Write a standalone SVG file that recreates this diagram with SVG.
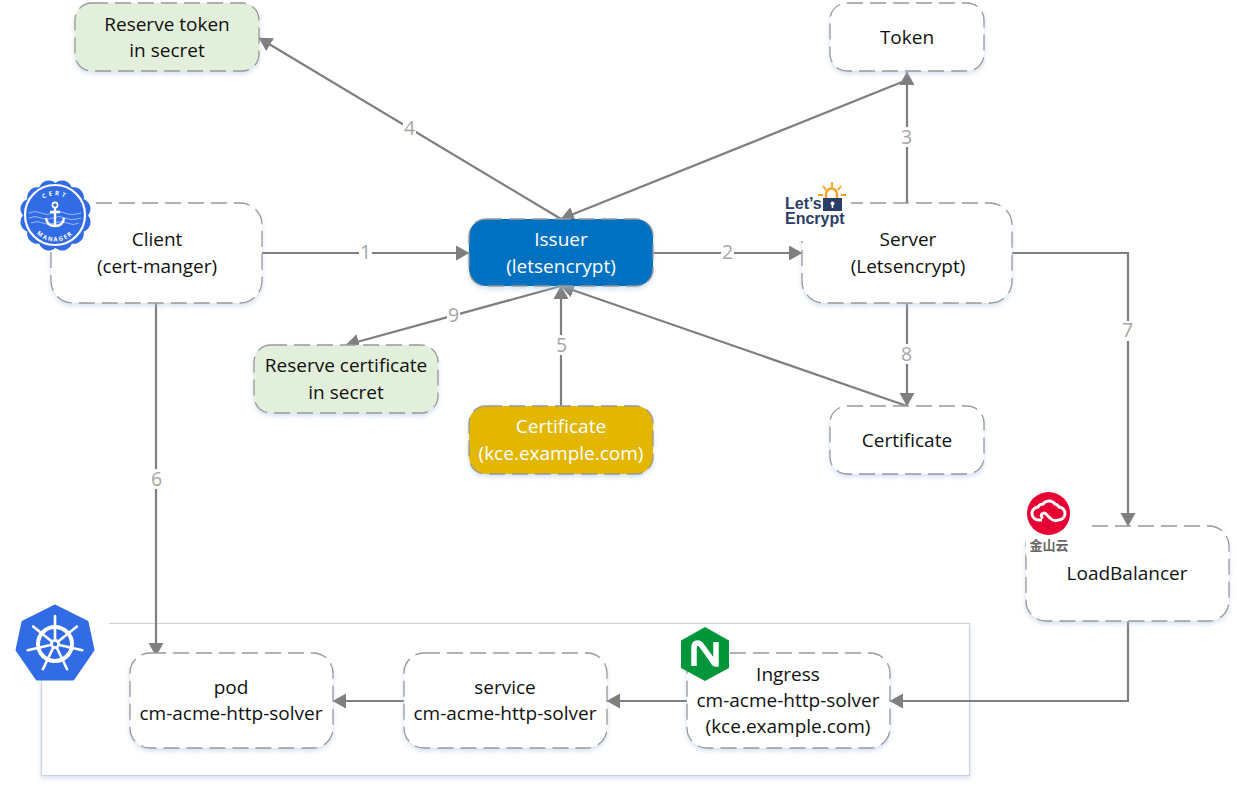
<svg xmlns="http://www.w3.org/2000/svg" width="1237" height="787" viewBox="0 0 1237 787">
<style>
text{font-family:"Open Sans","Noto Sans","Liberation Sans",sans-serif;font-size:19px;fill:#111;text-anchor:middle}
.box{fill:#fff;stroke:#999;stroke-width:1.3;stroke-dasharray:16 7;filter:url(#sh)}
.green{fill:#e2efda}.blue{fill:#0070c0}.yellow{fill:#e3b700}
text.w{fill:#fff}
.c{fill:none;stroke:#7f7f7f;stroke-width:2.2}
text.n{fill:#a6a6a6;font-size:19.500px}
.lb{fill:#fff}
text.le{font-family:"Liberation Sans",sans-serif;font-weight:700;fill:#2c3c69;text-anchor:start}
</style>
<defs>
<marker id="a" markerUnits="userSpaceOnUse" markerWidth="15" markerHeight="16" refX="13" refY="7.500" orient="auto"><path d="M0 0L13.500 7.500L0 15Z" fill="#7f7f7f"/></marker>
<filter id="sh" x="-10%" y="-10%" width="120%" height="125%"><feDropShadow dx="0" dy="2.500" stdDeviation="2" flood-color="#a9c4e6" flood-opacity=".5"/></filter>
<path id="ct" d="M36 209A20 20 0 0 1 74 209"/>
<path id="mg" d="M30 221A25.500 25.500 0 0 0 80 221"/>
</defs>
<g id="cluster"><path d="M109 623.500H969.500V775.500H41.500V680" fill="#fff" stroke="#cdd3d9" stroke-width="1.200" filter="url(#sh)"/></g>
<g id="connectors">
<path class="c" d="M262 253H469" marker-end="url(#a)"/>
<path class="c" d="M653 253H802" marker-end="url(#a)"/>
<path class="c" d="M907 203V72" marker-end="url(#a)"/>
<path class="c" d="M907 80L561 219" marker-end="url(#a)"/>
<path class="c" d="M561 219L259 38" marker-end="url(#a)"/>
<path class="c" d="M561 406V286" marker-end="url(#a)"/>
<path class="c" d="M907 406L561 286" marker-end="url(#a)"/>
<path class="c" d="M561 286L346 345" marker-end="url(#a)"/>
<path class="c" d="M907 303V406" marker-end="url(#a)"/>
<path class="c" d="M1012 253H1128V526" marker-end="url(#a)"/>
<path class="c" d="M156 303V656" marker-end="url(#a)"/>
<path class="c" d="M1128 621V701H890" marker-end="url(#a)"/>
<path class="c" d="M687 701H607" marker-end="url(#a)"/>
<path class="c" d="M404 701H333" marker-end="url(#a)"/>
<rect class="lb" x="359" y="243" width="13" height="20"/><text class="n" x="365.500" y="259">1</text>
<rect class="lb" x="721" y="243" width="13" height="20"/><text class="n" x="727.500" y="259">2</text>
<rect class="lb" x="900" y="127" width="13" height="20"/><text class="n" x="906.500" y="144">3</text>
<rect class="lb" x="403" y="118" width="13" height="20"/><text class="n" x="409.500" y="135">4</text>
<rect class="lb" x="555" y="335" width="13" height="20"/><text class="n" x="561.500" y="352">5</text>
<rect class="lb" x="150" y="469" width="13" height="20"/><text class="n" x="156.500" y="486">6</text>
<rect class="lb" x="1121" y="321" width="13" height="20"/><text class="n" x="1127.500" y="337">7</text>
<rect class="lb" x="900" y="344" width="13" height="20"/><text class="n" x="906.500" y="361">8</text>
<rect class="lb" x="447" y="305" width="13" height="20"/><text class="n" x="453.500" y="322">9</text>
</g>
<g id="reserve-token"><rect class="box green" x="75" y="3" width="184" height="68" rx="17"/><text x="167" y="31">Reserve token</text><text x="167" y="57">in secret</text></g>
<g id="token"><rect class="box" x="830" y="3" width="154" height="68" rx="17"/><text x="907" y="44">Token</text></g>
<g id="client"><rect class="box" x="51" y="203" width="211" height="100" rx="22"/><text x="157" y="246">Client</text><text x="157" y="273">(cert-manger)</text></g>
<g id="issuer"><rect class="box blue" x="469" y="219" width="184" height="67" rx="17"/><text class="w" x="561" y="246">Issuer</text><text class="w" x="561" y="273">(letsencrypt)</text></g>
<g id="server"><rect class="box" x="802" y="203" width="210" height="100" rx="22"/><text x="908" y="246">Server</text><text x="908" y="273">(Letsencrypt)</text></g>
<g id="reserve-certificate"><rect class="box green" x="254" y="345" width="184" height="68" rx="17"/><text x="346" y="372">Reserve certificate</text><text x="346" y="399">in secret</text></g>
<g id="certificate-yellow"><rect class="box yellow" x="469" y="406" width="184" height="68" rx="17"/><text class="w" x="561" y="433">Certificate</text><text class="w" x="561" y="460">(kce.example.com)</text></g>
<g id="certificate"><rect class="box" x="830" y="406" width="154" height="68" rx="17"/><text x="907" y="447">Certificate</text></g>
<g id="loadbalancer"><rect class="box" x="1026" y="526" width="203" height="95" rx="20"/><text x="1127" y="580">LoadBalancer</text></g>
<g id="pod"><rect class="box" x="130" y="653" width="203" height="95" rx="20"/><text x="231" y="694">pod</text><text x="231" y="720">cm-acme-http-solver</text></g>
<g id="service"><rect class="box" x="404" y="653" width="203" height="95" rx="20"/><text x="505" y="694">service</text><text x="505" y="720">cm-acme-http-solver</text></g>
<g id="ingress"><rect class="box" x="687" y="653" width="203" height="95" rx="20"/><text x="788" y="681">Ingress</text><text x="788" y="707">cm-acme-http-solver</text><text x="788" y="733">(kce.example.com)</text></g>
<g id="icon-cert-manager">
<rect x="19" y="180" width="72" height="72" fill="#fff"/>
<path transform="translate(55.500 215.500) scale(.93) translate(-55 -215)" d="M90 215A11 11 0 0 0 85.300 197.500A11 11 0 0 0 72.500 184.700A11 11 0 0 0 55 180A11 11 0 0 0 37.500 184.700A11 11 0 0 0 24.700 197.500A11 11 0 0 0 20 215A11 11 0 0 0 24.700 232.500A11 11 0 0 0 37.500 245.300A11 11 0 0 0 55 250A11 11 0 0 0 72.500 245.300A11 11 0 0 0 85.300 232.500A11 11 0 0 0 90 215Z" fill="#326ce5"/>
<circle cx="55" cy="215" r="30" fill="none" stroke="#fff" stroke-width="2.200"/>
<g fill="none" stroke="#fff"><path d="M29 213q6-3 12 0t12 0t12 0t16 0M29 218q6-3 12 0t12 0t12 0t16 0M31 223q6-3 12 0t12 0t12 0t12 0" stroke-width=".8" opacity=".65"/>
<circle cx="55" cy="205" r="2.600" stroke-width="1.600"/><path d="M55 208V226M50 212H60M46 218Q47 226 55 226Q63 226 64 218" stroke-width="2.400"/></g>
<text style="font-size:6px;fill:#fff;font-weight:700;letter-spacing:2.500px"><textPath href="#ct" startOffset="50%">CERT</textPath></text>
<text style="font-size:6px;fill:#fff;font-weight:700;letter-spacing:1.500px"><textPath href="#mg" startOffset="50%">MANAGER</textPath></text>
</g>
<g id="icon-letsencrypt">
<rect x="785" y="181" width="66" height="60" fill="#fff"/>
<path d="M826 199V194A5.500 5.500 0 0 1 837 194V199" fill="none" stroke="#f9a11b" stroke-width="2.400"/>
<path d="M832 182V187M823 186L826 190M841 186L838 190M818 195H823M846 195H841" stroke="#f9a11b" stroke-width="1.800"/>
<rect x="823" y="198" width="19" height="13" fill="#2c3c69"/><circle cx="832.500" cy="203.500" r="2" fill="#fff"/><rect x="831.700" y="204" width="1.600" height="4" fill="#fff"/>
<text class="le" x="785" y="209" style="font-size:16px">Let’s</text>
<text class="le" x="785" y="224" style="font-size:16px">Encrypt</text>
</g>
<g id="icon-kingsoft">
<rect x="1026" y="490" width="66" height="66" fill="#fff"/>
<circle cx="1048.500" cy="513.500" r="21.500" fill="#e60033"/>
<path d="M1042 520h-3a6.500 6.500 0 0 1-1-13a5.500 5.500 0 0 1 5-3a7.500 7.500 0 0 1 12 0a5.500 5.500 0 0 1 4 3a6.500 6.500 0 0 1-1 13q-4 2-8-2l-4-4q-2-2-4 0t1 4" fill="none" stroke="#fff" stroke-width="3"/>
<text x="1049" y="550" style="font-size:13px;font-weight:700;fill:#666;font-family:'Noto Sans CJK SC',sans-serif">金山云</text>
</g>
<g id="icon-nginx">
<path d="M705 627L729 640.500V668L705 681L681 668V640.500Z" fill="#009639"/>
<path d="M694 666V648Q694 643 697.500 643Q700 643 702 646L712 660Q714 664 716 664V642" fill="none" stroke="#fff" stroke-width="5.500"/>
</g>
<g id="icon-kubernetes">
<path d="M55 606L87 622L93 650L73 679H37L17 650L23 622Z" fill="#326ce5" stroke="#326ce5" stroke-linejoin="round" stroke-width="3"/>
<g fill="none" stroke="#fff"><circle cx="55" cy="644" r="17" stroke-width="4"/><path d="M55 644V616M55 644L76.900 626.500M55 644L82.300 650.200M55 644L67.100 669.200M55 644L42.900 669.200M55 644L27.700 650.200M55 644L33.100 626.500" stroke-width="2.600" stroke-linecap="round"/></g>
<circle cx="55" cy="644" r="5" fill="#fff"/><circle cx="55" cy="644" r="2.200" fill="#326ce5"/>
</g>
</svg>
